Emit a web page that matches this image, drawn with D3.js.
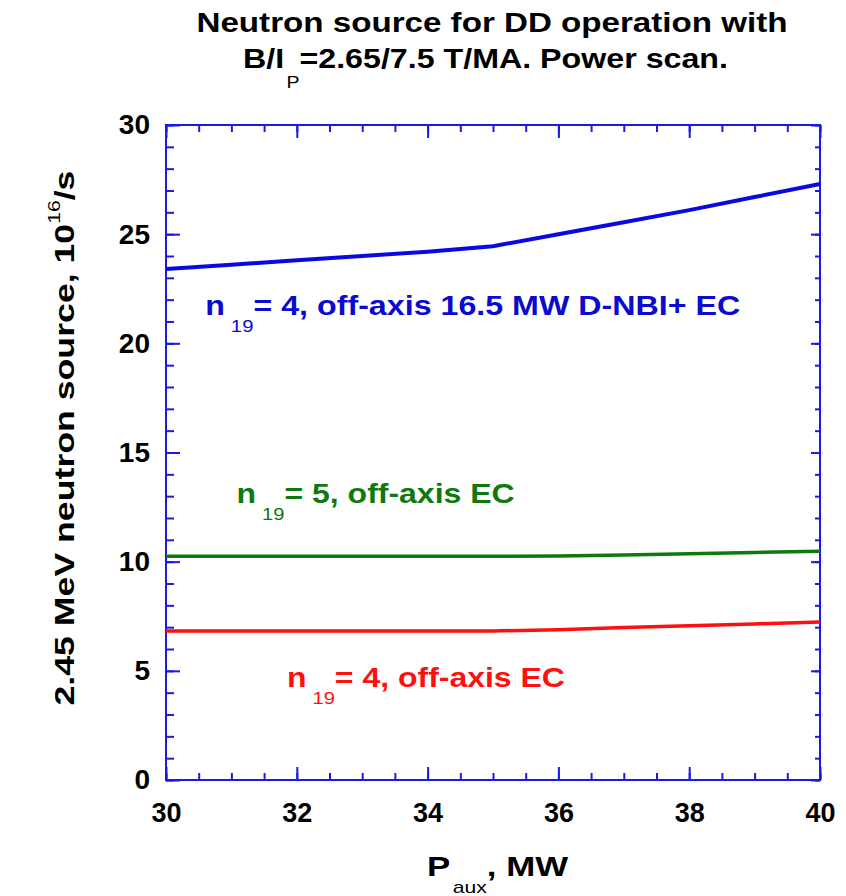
<!DOCTYPE html>
<html>
<head>
<meta charset="utf-8">
<script src="https://cdn.jsdelivr.net/npm/d3@7"></script>
<style>
  body { margin: 0; background: #fff; }
  svg text { font-family: "Liberation Sans", Arial, sans-serif; }
</style>
</head>
<body>
<script>
// values
const pAux = [30, 31, 32, 33, 34, 35, 36, 37, 38, 39, 40];
const nbiEcSource = [23.4, 23.6, 23.8, 24.0, 24.2, 24.45, 25.0, 25.55, 26.1, 26.7, 27.3];
const ecN5Source = [10.25, 10.25, 10.25, 10.25, 10.25, 10.25, 10.26, 10.3, 10.36, 10.42, 10.48];
const ecN4Source = [6.82, 6.82, 6.82, 6.82, 6.82, 6.83, 6.88, 6.98, 7.06, 7.15, 7.24];

const xMajorTicks = [30, 32, 34, 36, 38, 40];
const xMinorTicks = d3.range(30, 40.01, 0.5);
const yMajorTicks = [0, 5, 10, 15, 20, 25, 30];
const yMinorTicks = d3.range(0, 30.01, 1);

const width = 846;
const height = 896;
const margin = { top: 125, right: 26, bottom: 116, left: 166 };

const axisBlue = "#1a1ae6";

const svg = d3.select("body").append("svg")
    .attr("width", width)
    .attr("height", height);

const x = d3.scaleLinear().domain([30, 40]).range([margin.left, width - margin.right]);
const y = d3.scaleLinear().domain([0, 30]).range([height - margin.bottom, margin.top]);

// ticks on all four sides, pointing inwards
function drawAxis(axisFn, transform, scale, values, size, labels) {
    const g = svg.append("g")
        .attr("transform", transform)
        .call(axisFn(scale).tickValues(values).tickSize(-size).tickSizeOuter(0)
            .tickPadding(labels ? 16 : 0)
            .tickFormat(labels ? d3.format("d") : ""));
    g.select(".domain").remove();
    g.selectAll(".tick line").attr("stroke", axisBlue).attr("stroke-width", 2);
    return g;
}

const bottomY = height - margin.bottom;
const rightX = width - margin.right;

drawAxis(d3.axisBottom, `translate(0,${bottomY})`, x, xMinorTicks, 7, false);
const xAxisG = drawAxis(d3.axisBottom, `translate(0,${bottomY})`, x, xMajorTicks, 13, true);
drawAxis(d3.axisTop, `translate(0,${margin.top})`, x, xMinorTicks, 7, false);
drawAxis(d3.axisTop, `translate(0,${margin.top})`, x, xMajorTicks, 13, false);
drawAxis(d3.axisLeft, `translate(${margin.left},0)`, y, yMinorTicks, 8, false);
const yAxisG = drawAxis(d3.axisLeft, `translate(${margin.left},0)`, y, yMajorTicks, 14, true);
drawAxis(d3.axisRight, `translate(${rightX},0)`, y, yMinorTicks, 5, false);
drawAxis(d3.axisRight, `translate(${rightX},0)`, y, yMajorTicks, 9, false);

xAxisG.selectAll(".tick text")
    .attr("fill", "#000")
    .style("font-size", "27px")
    .style("font-weight", "bold")
    .attr("dy", "0.95em");
yAxisG.selectAll(".tick text")
    .attr("fill", "#000")
    .style("font-size", "28px")
    .style("font-weight", "bold");

// frame
svg.append("rect")
    .attr("x", margin.left)
    .attr("y", margin.top)
    .attr("width", rightX - margin.left)
    .attr("height", bottomY - margin.top)
    .attr("fill", "none")
    .attr("stroke", axisBlue)
    .attr("stroke-width", 2);

// curves
const line = d3.line().x((d, i) => x(pAux[i])).y(d => y(d));

const series = [
    { values: nbiEcSource, color: "#0a0ae0", w: 4 },
    { values: ecN5Source, color: "#0e7a0e", w: 3.5 },
    { values: ecN4Source, color: "#ff1010", w: 3.5 }
];

series.forEach(s => {
    svg.append("path")
        .datum(s.values)
        .attr("fill", "none")
        .attr("stroke", s.color)
        .attr("stroke-width", s.w)
        .attr("d", line);
});

// text with sub/superscript parts, stretched to the width seen in the picture
function richText(px, py, parts, opts) {
    const t = svg.append("text")
        .attr("x", px)
        .attr("y", py)
        .attr("fill", opts.color || "#000")
        .attr("text-anchor", opts.anchor || "start")
        .style("font-size", opts.size + "px")
        .style("font-weight", "bold");
    if (opts.rotate) t.attr("transform", `rotate(-90,${px},${py})`);
    let shift = 0;
    parts.forEach(p => {
        const off = p.shift || 0;
        const sp = t.append("tspan")
            .attr("dy", off - shift)
            .text(p.t);
        if (p.small) {
            sp.style("font-size", (p.size || 17) + "px").style("font-weight", "normal");
        }
        if (p.dx) sp.attr("dx", p.dx);
        shift = off;
    });
    if (opts.len) t.attr("textLength", opts.len).attr("lengthAdjust", "spacingAndGlyphs");
    return t;
}

// title
richText(492, 32, [{ t: "Neutron source for DD operation with" }], { size: 28, anchor: "middle", len: 591 });
richText(243, 68, [
    { t: "B/I" },
    { t: "P", shift: 20, small: true, size: 17, dx: 2 },
    { t: "=2.65/7.5 T/MA. Power scan." }
], { size: 28, len: 485 });

// curve labels
richText(x(30.6), y(21.3), [
    { t: "n" },
    { t: "19", shift: 17, small: true, dx: 5 },
    { t: "= 4, off-axis 16.5 MW D-NBI+ EC" }
], { size: 27, color: "#0a0ad0", len: 535 });

richText(x(31.08), y(12.7), [
    { t: "n" },
    { t: "19", shift: 17, small: true, dx: 5 },
    { t: "= 5, off-axis EC" }
], { size: 27, color: "#0e7a0e", len: 278 });

richText(x(31.85), y(4.26), [
    { t: "n" },
    { t: "19", shift: 17, small: true, dx: 5 },
    { t: "= 4, off-axis EC" }
], { size: 27, color: "#ff1010", len: 278 });

// axis titles
richText(427, 876, [
    { t: "P" },
    { t: "aux", shift: 17, small: true, dx: 2 },
    { t: ", MW" }
], { size: 28, len: 141 });

richText(74, 438, [
    { t: "2.45 MeV neutron source, 10" },
    { t: "16", shift: -14, small: true, size: 16 },
    { t: "/s" }
], { size: 27, anchor: "middle", rotate: true, len: 535 });
</script>
</body>
</html>
